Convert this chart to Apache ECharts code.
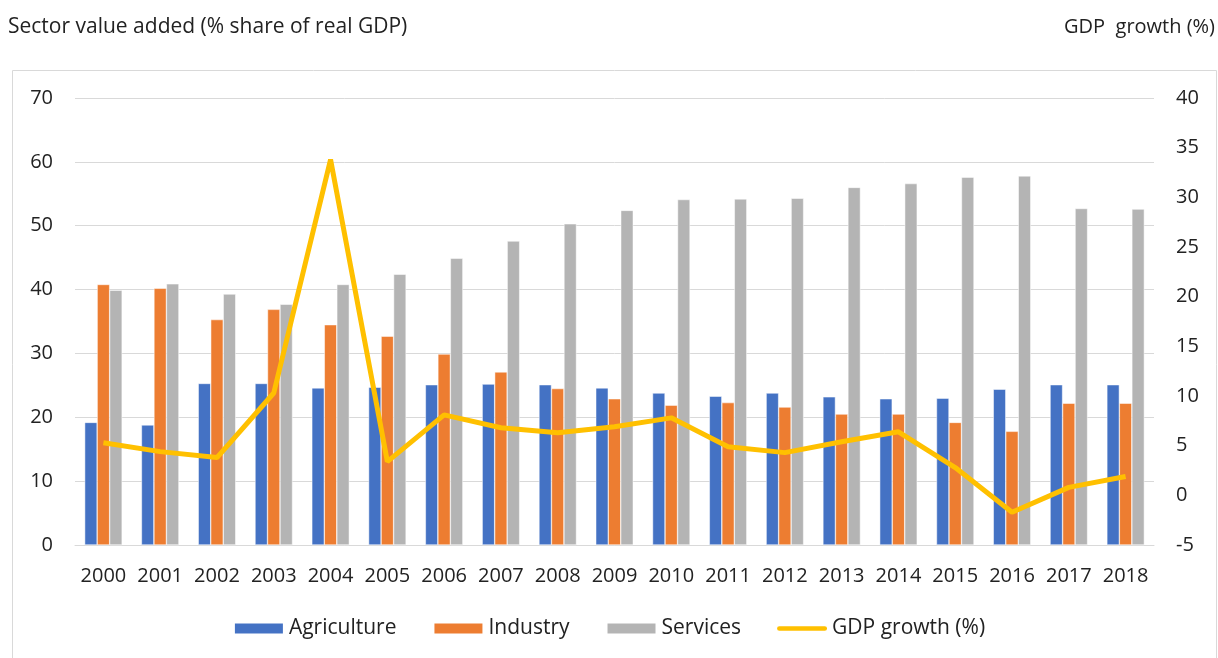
<!DOCTYPE html>
<html>
<head>
<meta charset="utf-8">
<style>
  html, body { margin: 0; padding: 0; background: #fff; }
  #chart { width: 1218px; height: 658px; }
</style>
</head>
<body>
<div id="chart"></div>
<script src="https://cdn.jsdelivr.net/npm/echarts@6/dist/echarts.min.js"></script>
<script>
// 年份
var years = ['2000','2001','2002','2003','2004','2005','2006','2007','2008','2009',
             '2010','2011','2012','2013','2014','2015','2016','2017','2018'];
// 各部门增加值（占实际GDP %）
var agriculture = [19.2, 18.8, 25.3, 25.3, 24.6, 24.7, 25.1, 25.2, 25.1, 24.6,
                   23.8, 23.3, 23.8, 23.2, 22.9, 23.0, 24.4, 25.1, 25.1];
var industry    = [40.8, 40.2, 35.3, 36.9, 34.5, 32.7, 29.9, 27.1, 24.5, 22.9,
                   21.9, 22.3, 21.6, 20.5, 20.5, 19.2, 17.8, 22.2, 22.2];
var services    = [39.9, 40.9, 39.3, 37.7, 40.8, 42.4, 44.9, 47.6, 50.3, 52.4,
                   54.1, 54.2, 54.3, 56.0, 56.6, 57.6, 57.8, 52.7, 52.6];
// GDP增长率 %
var gdpGrowth   = [5.3, 4.4, 3.8, 10.3, 33.8, 3.4, 8.1, 6.8, 6.3, 6.9,
                   7.8, 4.9, 4.3, 5.4, 6.4, 2.8, -1.7, 0.8, 1.9];

var font = '"Open Sans", sans-serif';
var chart = echarts.init(document.getElementById('chart'));

// 图例里的折线图标（圆头粗线）
var lineIcon = 'path://M2.5,0 L51.5,0 A2.5,2.5 0 0 1 51.5,5 L2.5,5 A2.5,2.5 0 0 1 2.5,0 Z';

var option = {
  animation: false,
  textStyle: { fontFamily: font },
  graphic: [
    { type: 'rect', left: 10, top: 68, shape: { width: 1204, height: 600 },
      style: { fill: 'none', stroke: '#d9d9d9', lineWidth: 1 } },
    { type: 'text', left: 8, top: 17,
      style: { text: 'Sector value added (% share of real GDP)', fill: '#222', font: '21px ' + font } },
    { type: 'text', right: 3, top: 17,
      style: { text: 'GDP  growth (%)', fill: '#222', font: '20px ' + font } }
  ],
  grid: { left: 75, right: 64, top: 98, bottom: 113 },
  legend: {
    top: 613,
    left: 'center',
    itemGap: 36,
    itemWidth: 50,
    itemHeight: 12,
    textStyle: { fontSize: 21, color: '#222', fontFamily: font },
    data: [
      { name: 'Agriculture', icon: 'rect' },
      { name: 'Industry', icon: 'rect' },
      { name: 'Services', icon: 'rect' },
      { name: 'GDP growth (%)', icon: lineIcon }
    ]
  },
  xAxis: {
    type: 'category',
    data: years,
    axisLine: { lineStyle: { color: '#d9d9d9', width: 1 } },
    axisTick: { show: false },
    axisLabel: { fontSize: 20, color: '#222', margin: 21, interval: 0 }
  },
  yAxis: [
    {
      type: 'value', min: 0, max: 70, interval: 10,
      axisLine: { show: false }, axisTick: { show: false },
      axisLabel: { fontSize: 20, color: '#222', margin: 22 },
      splitLine: { lineStyle: { color: '#d9d9d9', width: 1 } }
    },
    {
      type: 'value', min: -5, max: 40, interval: 5,
      axisLine: { show: false }, axisTick: { show: false },
      axisLabel: { fontSize: 20, color: '#222', margin: 22 },
      splitLine: { show: false }
    }
  ],
  series: [
    { name: 'Agriculture', type: 'bar', data: agriculture, barWidth: 12.5, barGap: '0%',
      itemStyle: { color: '#4472C4', borderColor: '#fff', borderWidth: 0.5 } },
    { name: 'Industry', type: 'bar', data: industry, barWidth: 12.5, barGap: '0%',
      itemStyle: { color: '#ED7D31', borderColor: '#fff', borderWidth: 0.5 } },
    { name: 'Services', type: 'bar', data: services, barWidth: 12.5, barGap: '0%',
      itemStyle: { color: '#B4B4B4', borderColor: '#fff', borderWidth: 0.5 } },
    { name: 'GDP growth (%)', type: 'line', yAxisIndex: 1, data: gdpGrowth,
      symbol: 'none', lineStyle: { color: '#FFC000', width: 5 },
      itemStyle: { color: '#FFC000' } }
  ]
};

chart.setOption(option);
</script>
</body>
</html>
